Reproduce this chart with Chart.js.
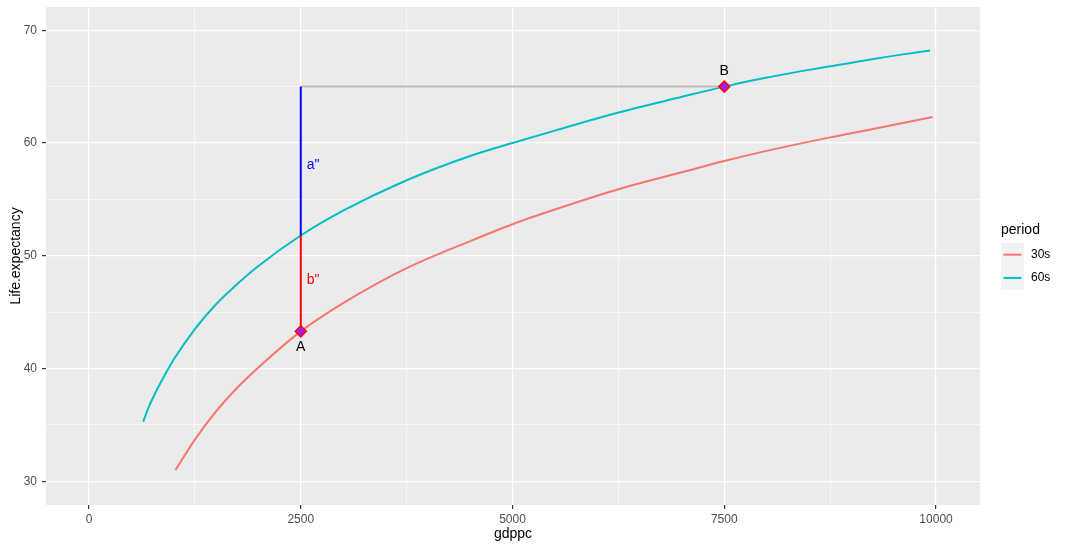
<!DOCTYPE html>
<html>
<head>
<meta charset="utf-8">
<script src="https://cdn.jsdelivr.net/npm/chart.js@4.4.1/dist/chart.umd.min.js"></script>
<style>
  html, body { margin: 0; padding: 0; background: #ffffff; }
  canvas { display: block; }
</style>
</head>
<body>
<canvas id="chart" width="1067" height="548"></canvas>
<script>
// curve samples
var gdp30s = [1020, 1250, 1500, 1750, 2000, 2500, 3000, 3750, 4500, 5000, 5500, 6250, 7000, 7500, 8000, 8750, 9300, 9960];
var life30s = [31.0, 33.7, 36.2, 38.3, 40.1, 43.3, 45.8, 48.9, 51.3, 52.8, 54.1, 55.9, 57.4, 58.4, 59.3, 60.5, 61.3, 62.3];
var gdp60s = [640, 700, 800, 900, 1000, 1250, 1500, 1750, 2000, 2500, 3000, 3750, 4500, 5000, 5500, 6250, 7000, 7500, 8000, 8750, 9300, 9930];
var life60s = [35.3, 36.5, 38.1, 39.5, 40.8, 43.5, 45.7, 47.5, 49.1, 51.8, 54.0, 56.7, 58.85, 60.0, 61.1, 62.7, 64.1, 65.0, 65.8, 66.8, 67.5, 68.2];

// annotation points A and B, and the segments between them
var pointA = { x: 2500, y: 43.3 };
var pointB = { x: 7500, y: 65.0 };
var crossY = 51.8;

// text labels
var labelText = ['A', 'B', 'a"', 'b"'];
var labelX = [2500, 7500, 2645, 2645];
var labelY = [41.9, 66.4, 58.0, 47.8];
var labelColor = ['#000000', '#000000', '#0000FF', '#FF0000'];

// axes
var xTicks = [0, 1250, 2500, 3750, 5000, 6250, 7500, 8750, 10000];
var yTicks = [30, 35, 40, 45, 50, 55, 60, 65, 70];
var xMajor = [0, 2500, 5000, 7500, 10000];
var yMajor = [30, 40, 50, 60, 70];

function toPoints(xs, ys) {
    var _pts = [];
    for (var i = 0; i < xs.length; i++) {
        _pts.push({ x: xs[i], y: ys[i] });
    }
    return _pts;
}

var panelBg = {
    id: 'panelBg',
    beforeDraw: function (chart) {
        var a = chart.chartArea;
        var ctx = chart.ctx;
        ctx.save();
        ctx.fillStyle = '#EBEBEB';
        ctx.fillRect(a.left, a.top, a.right - a.left, a.bottom - a.top);
        ctx.restore();
    }
};

var textLabels = {
    id: 'textLabels',
    afterDatasetsDraw: function (chart) {
        var ctx = chart.ctx;
        var xs = chart.scales.x, ys = chart.scales.y;
        ctx.save();
        ctx.font = '14px "Liberation Sans", Arial, sans-serif';
        ctx.textAlign = 'center';
        ctx.textBaseline = 'middle';
        for (var i = 0; i < labelText.length; i++) {
            ctx.fillStyle = labelColor[i];
            ctx.fillText(labelText[i], xs.getPixelForValue(labelX[i]), ys.getPixelForValue(labelY[i]));
        }
        ctx.restore();
    }
};

var sideLegend = {
    id: 'sideLegend',
    afterDraw: function (chart) {
        var ctx = chart.ctx;
        var items = chart.data.datasets.filter(function (d) { return d.inLegend; });
        var left = chart.chartArea.right + 21;
        var top = 243;
        var keySize = 23.3;
        ctx.save();
        ctx.fillStyle = '#000000';
        ctx.font = '14px "Liberation Sans", Arial, sans-serif';
        ctx.textBaseline = 'middle';
        ctx.textAlign = 'left';
        ctx.fillText('period', left, 230);
        ctx.fillStyle = '#F2F2F2';
        ctx.fillRect(left, top, 23, keySize * items.length);
        ctx.font = '12px "Liberation Sans", Arial, sans-serif';
        for (var i = 0; i < items.length; i++) {
            var cy = top + keySize * i + keySize / 2;
            ctx.strokeStyle = items[i].borderColor;
            ctx.lineWidth = 2;
            ctx.beginPath();
            ctx.moveTo(left + 2.5, cy);
            ctx.lineTo(left + 20.5, cy);
            ctx.stroke();
            ctx.fillStyle = '#000000';
            ctx.fillText(items[i].label, left + 30, cy);
        }
        ctx.restore();
    }
};

var tickFont = { family: '"Liberation Sans", Arial, sans-serif', size: 12 };
var titleFont = { family: '"Liberation Sans", Arial, sans-serif', size: 14 };

var ctx = document.getElementById('chart');
var MainChart = new Chart(ctx, {
    type: 'scatter',
    data: {
        datasets: [
            {
                label: 'A/B', data: [pointA, pointB], order: 0,
                pointStyle: 'rectRot', pointRadius: 5.5, borderWidth: 1.5,
                backgroundColor: '#A020F0', borderColor: '#FF0000', showLine: false
            },
            {
                label: 'b', data: [pointA, { x: pointA.x, y: crossY }], order: 1,
                showLine: true, borderColor: '#FF0000', borderWidth: 2, pointRadius: 0
            },
            {
                label: 'a', data: [{ x: pointA.x, y: crossY }, { x: pointA.x, y: pointB.y }], order: 1,
                showLine: true, borderColor: '#0000FF', borderWidth: 2, pointRadius: 0
            },
            {
                label: 'ref', data: [{ x: pointA.x, y: pointB.y }, pointB], order: 1,
                showLine: true, borderColor: '#BEBEBE', borderWidth: 2, pointRadius: 0
            },
            {
                label: '30s', data: toPoints(gdp30s, life30s), order: 2, inLegend: true,
                showLine: true, borderColor: '#F8766D', borderWidth: 2, pointRadius: 0,
                cubicInterpolationMode: 'monotone'
            },
            {
                label: '60s', data: toPoints(gdp60s, life60s), order: 2, inLegend: true,
                showLine: true, borderColor: '#00BFC4', borderWidth: 2, pointRadius: 0,
                cubicInterpolationMode: 'monotone'
            }
        ]
    },
    options: {
        responsive: false,
        animation: false,
        devicePixelRatio: 1,
        layout: { padding: { left: 0, top: 6, right: 87, bottom: 0 } },
        plugins: { legend: { display: false }, tooltip: { enabled: false } },
        scales: {
            x: {
                type: 'linear', min: -508, max: 10519,
                afterBuildTicks: function (s) { s.ticks = xTicks.map(function (v) { return { value: v }; }); },
                afterFit: function (s) { s.height = 43; s.paddingLeft = 0; s.paddingRight = 0; },
                border: { display: false },
                grid: {
                    color: '#FFFFFF',
                    lineWidth: function (c) { return xMajor.indexOf(c.tick.value) >= 0 ? 1.2 : 0.6; },
                    tickColor: function (c) { return xMajor.indexOf(c.tick.value) >= 0 ? '#333333' : 'rgba(0,0,0,0)'; },
                    tickLength: 4
                },
                ticks: {
                    color: '#4D4D4D', font: tickFont, padding: 3, maxRotation: 0, autoSkip: false,
                    callback: function (v) { return xMajor.indexOf(v) >= 0 ? String(v) : ''; }
                },
                title: { display: true, text: 'gdppc', color: '#000000', font: titleFont, padding: { top: 0, bottom: 5 } }
            },
            y: {
                type: 'linear', min: 27.9, max: 72.06,
                afterBuildTicks: function (s) { s.ticks = yTicks.map(function (v) { return { value: v }; }); },
                afterFit: function (s) { s.width = 46; s.paddingTop = 0; s.paddingBottom = 0; },
                border: { display: false },
                grid: {
                    color: '#FFFFFF',
                    lineWidth: function (c) { return yMajor.indexOf(c.tick.value) >= 0 ? 1.2 : 0.6; },
                    tickColor: function (c) { return yMajor.indexOf(c.tick.value) >= 0 ? '#333333' : 'rgba(0,0,0,0)'; },
                    tickLength: 4
                },
                ticks: {
                    color: '#4D4D4D', font: tickFont, padding: 5, autoSkip: false,
                    callback: function (v) { return yMajor.indexOf(v) >= 0 ? String(v) : ''; }
                },
                title: { display: true, text: 'Life.expectancy', color: '#000000', font: titleFont, padding: { top: 8, bottom: 0 } }
            }
        }
    },
    plugins: [panelBg, textLabels, sideLegend]
});
</script>
</body>
</html>
